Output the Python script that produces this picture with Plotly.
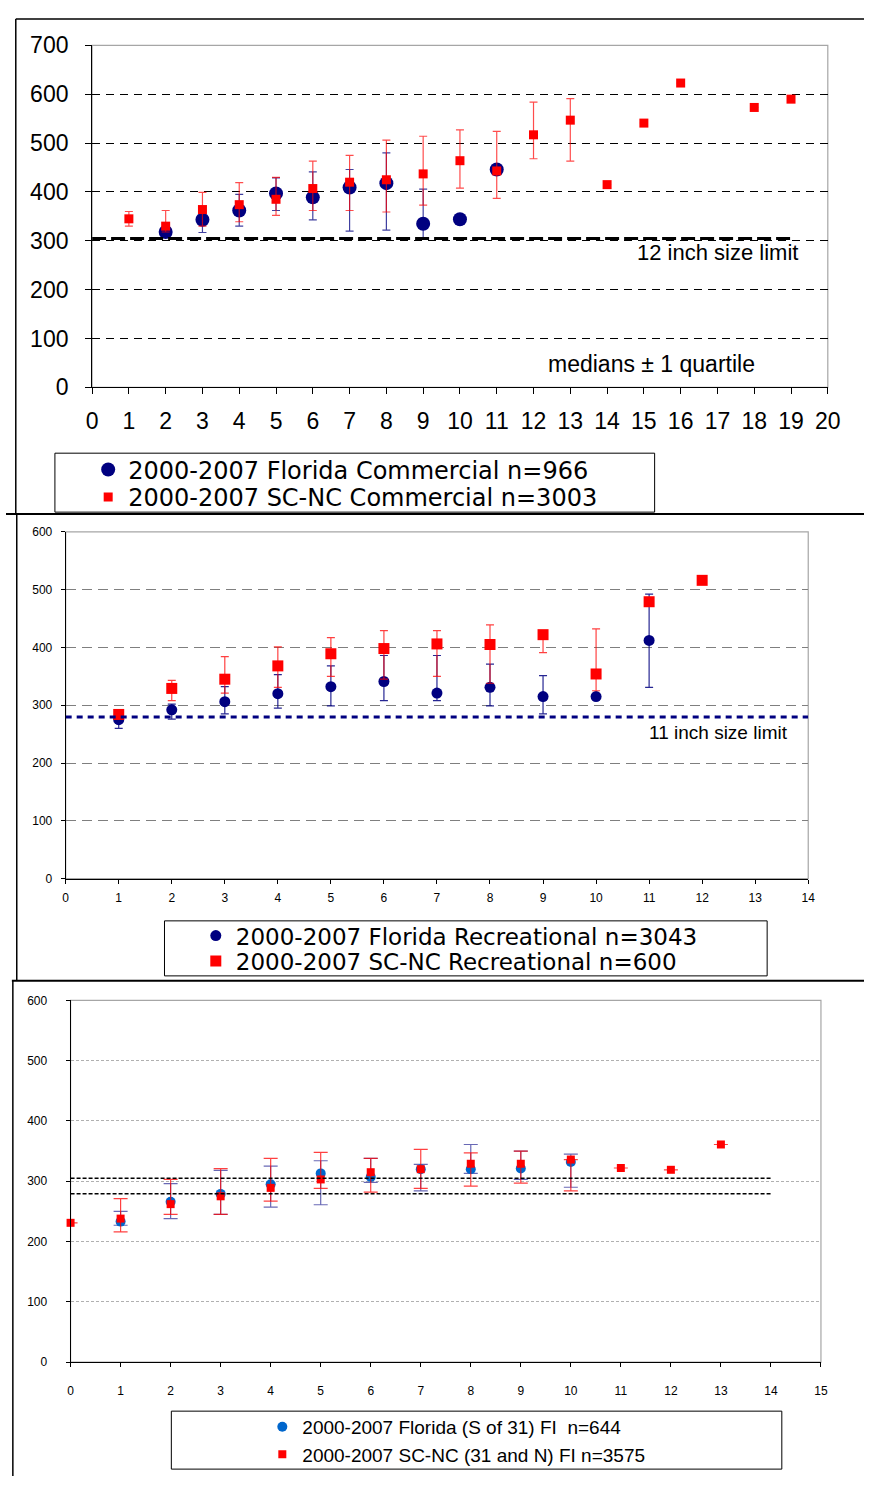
import plotly.graph_objects as go

W, H = 877, 1489

# ---------------- data ----------------
# Panel 1: commercial
fc_x = [2, 3, 4, 5, 6, 7, 8, 9, 10, 11]
fc_med = [318, 343, 362, 397, 389, 409, 418, 335, 344, 446]
fc_q1 = [312, 317, 330, 362, 343, 320, 322, 305, 344, 446]
fc_q3 = [325, 356, 395, 429, 441, 446, 480, 406, 344, 446]

sc_x = [1, 2, 3, 4, 5, 6, 7, 8, 9, 10, 11, 12, 13, 14, 15, 16, 18, 19]
sc_med = [345, 330, 364, 374, 385, 407, 420, 425, 437, 464, 443, 517, 547, 415, 541, 623, 573, 590]
sc_q1 = [330, 318, 330, 339, 352, 362, 362, 359, 373, 408, 387, 468, 463, 415, 541, 623, 573, 590]
sc_q3 = [360, 362, 399, 419, 430, 463, 475, 506, 514, 527, 524, 584, 591, 415, 541, 623, 573, 590]

# Panel 2: recreational
fr_x = [1, 2, 3, 4, 5, 6, 7, 8, 9, 10, 11]
fr_med = [275, 292, 306, 320, 332, 341, 321, 331, 315, 315, 412]
fr_q1 = [260, 276, 285, 295, 299, 308, 308, 299, 285, 315, 331]
fr_q3 = [290, 302, 332, 353, 368, 386, 386, 371, 351, 315, 492]

sr_x = [1, 2, 3, 4, 5, 6, 7, 8, 9, 10, 11, 12]
sr_med = [284, 329, 345, 368, 389, 398, 406, 405, 422, 354, 479, 516]
sr_q1 = [278, 308, 321, 331, 350, 345, 350, 338, 391, 325, 479, 516]
sr_q3 = [290, 343, 384, 401, 417, 429, 429, 439, 422, 432, 479, 516]

# Panel 3: fishery independent
ff_x = [1, 2, 3, 4, 5, 6, 7, 8, 9, 10]
ff_med = [233, 266, 279, 295, 313, 307, 320, 320, 321, 332]
ff_q1 = [227, 238, 245, 257, 261, 298, 284, 313, 303, 290]
ff_q3 = [250, 296, 318, 325, 334, 338, 328, 361, 350, 345]

sf_x = [0, 1, 2, 3, 4, 5, 6, 7, 8, 9, 10, 11, 12, 13]
sf_med = [231, 238, 262, 275, 289, 303, 315, 320, 329, 329, 336, 322, 319, 361]
sf_q1 = [231, 216, 245, 245, 267, 288, 282, 288, 292, 297, 284, 322, 319, 361]
sf_q3 = [231, 271, 303, 321, 338, 348, 338, 353, 347, 350, 336, 322, 319, 361]

limit_12in = 304.8
limit_11in = 279.4

names = [
    "2000-2007 Florida Commercial n=966",
    "2000-2007 SC-NC Commercial n=3003",
    "2000-2007 Florida Recreational n=3043",
    "2000-2007 SC-NC Recreational n=600",
    "2000-2007 Florida (S of 31) FI  n=644",
    "2000-2007 SC-NC (31 and N) FI n=3575",
]


def px(x):
    return x / W


def py(y):
    return 1 - y / H


def plus(med, q3):
    return [b - a for a, b in zip(med, q3)]


def minus(med, q1):
    return [a - b for a, b in zip(med, q1)]


FONT = "Liberation Sans, Arial, sans-serif"
WIDE = "DejaVu Sans, Verdana, sans-serif"

fig = go.Figure()


def add_series(x, med, q1, q3, name, xa, ya, legend, symbol, size, color, ecolor, capw):
    fig.add_trace(go.Scatter(
        x=x, y=med, mode="markers", name=name, xaxis=xa, yaxis=ya, legend=legend,
        cliponaxis=False,
        marker=dict(symbol=symbol, size=size, color=color, line=dict(width=0)),
        error_y=dict(type="data", symmetric=False, array=plus(med, q3),
                     arrayminus=minus(med, q1), color=ecolor, thickness=1.2, width=capw),
    ))


add_series(fc_x, fc_med, fc_q1, fc_q3, names[0], "x", "y", "legend", "circle", 14,
           "#000080", "rgba(0,0,128,0.75)", 4)
add_series(sc_x, sc_med, sc_q1, sc_q3, names[1], "x", "y", "legend2", "square", 9,
           "#ff0000", "rgba(255,0,0,0.7)", 4)
add_series(fr_x, fr_med, fr_q1, fr_q3, names[2], "x2", "y2", "legend3", "circle", 11,
           "#000080", "rgba(0,0,128,0.85)", 4)
add_series(sr_x, sr_med, sr_q1, sr_q3, names[3], "x2", "y2", "legend4", "square", 11,
           "#ff0000", "rgba(255,0,0,0.75)", 4)
add_series(ff_x, ff_med, ff_q1, ff_q3, names[4], "x3", "y3", "legend5", "circle", 10,
           "#0066cc", "rgba(40,40,150,0.7)", 7)
add_series(sf_x, sf_med, sf_q1, sf_q3, names[5], "x3", "y3", "legend6", "square", 8,
           "#ff0000", "rgba(255,0,0,0.75)", 7)

# plot-area pixel rectangles
P1 = (88, 33, 840, 381)
P2 = (61, 528, 820, 881)
P3 = (66, 1005, 833, 1373)


def dom(p):
    return [px(p[0]), px(p[2])], [py(p[3]), py(p[1])]


d1x, d1y = dom(P1)
d2x, d2y = dom(P2)
d3x, d3y = dom(P3)

common_ax = dict(showline=True, linecolor="black", linewidth=1, ticks="outside",
                 tickcolor="black", zeroline=False, fixedrange=True)


def leg(xpx, ypx, size, family):
    return dict(x=px(xpx), y=py(ypx), xanchor="left", yanchor="middle",
                bgcolor="rgba(0,0,0,0)", font=dict(size=size, family=family), borderwidth=0,
                itemsizing="trace")


fig.update_layout(
    width=W, height=H, margin=dict(l=0, r=0, t=0, b=0),
    paper_bgcolor="white", plot_bgcolor="white",
    font=dict(family=FONT, color="black"),
    xaxis=dict(domain=d1x, range=[0, 20], dtick=1, tick0=0, anchor="y", showgrid=False,
               ticklen=6, tickfont=dict(size=23), ticklabelstandoff=7, **common_ax),
    yaxis=dict(domain=d1y, range=[0, 700], dtick=100, anchor="x", showgrid=True,
               gridcolor="black", griddash="8px,6px", gridwidth=1,
               ticklen=6, tickfont=dict(size=23), ticklabelstandoff=12, **common_ax),
    xaxis2=dict(domain=d2x, range=[0, 14], dtick=1, tick0=0, anchor="y2", showgrid=False,
                ticklen=4, tickfont=dict(size=12), ticklabelstandoff=4, **common_ax),
    yaxis2=dict(domain=d2y, range=[0, 600], dtick=100, anchor="x2", showgrid=True,
                gridcolor="#7f7f7f", griddash="10px,6px", gridwidth=1,
                ticklen=4, tickfont=dict(size=12), ticklabelstandoff=6, **common_ax),
    xaxis3=dict(domain=d3x, range=[0, 15], dtick=1, tick0=0, anchor="y3", showgrid=False,
                ticklen=4, tickfont=dict(size=12), ticklabelstandoff=14, **common_ax),
    yaxis3=dict(domain=d3y, range=[0, 600], dtick=100, anchor="x3", showgrid=True,
                gridcolor="#b0b0b0", griddash="3px,2px", gridwidth=1,
                ticklen=4, tickfont=dict(size=12), ticklabelstandoff=16, **common_ax),
    legend=leg(84, 465, 24, WIDE),
    legend2=leg(84, 493, 24, WIDE),
    legend3=leg(194, 939, 23, WIDE),
    legend4=leg(194, 965, 23, WIDE),
    legend5=leg(262, 1439, 19, FONT),
    legend6=leg(262, 1467, 19, FONT),
    showlegend=True,
)

shapes = []


def line_px(x0, y0, x1, y1, color="black", width=1.5):
    shapes.append(dict(type="line", xref="paper", yref="paper", x0=px(x0), y0=py(y0),
                       x1=px(x1), y1=py(y1), line=dict(color=color, width=width)))


def rect_px(x0, y0, x1, y1, color, width=1):
    shapes.append(dict(type="rect", xref="paper", yref="paper", x0=px(x0), y0=py(y0),
                       x1=px(x1), y1=py(y1), line=dict(color=color, width=width),
                       fillcolor="rgba(0,0,0,0)", layer="below"))


# outer panel frames
line_px(10, 6, 877, 6)
line_px(10, 6, 10, 510)
line_px(0, 510, 877, 510, width=2)
line_px(11, 510, 11, 985)
line_px(6, 985, 877, 985, width=2)
line_px(7, 985, 7, 1489)

# plot-area frames (grey top/right)
for p in (P1, P2, P3):
    rect_px(p[0], p[1], p[2], p[3], "#a6a6a6", 1.2)

# legend boxes
rect_px(50, 448, 663, 508, "black", 1)
rect_px(162, 924, 778, 980, "black", 1)
rect_px(169, 1423, 793, 1482, "black", 1)

# size-limit lines
shapes.append(dict(type="line", xref="x", yref="y", x0=0, x1=19, y0=limit_12in, y1=limit_12in,
                   line=dict(color="black", width=3, dash="14px,5px")))
shapes.append(dict(type="line", xref="x2", yref="y2", x0=0, x1=14, y0=limit_11in, y1=limit_11in,
                   line=dict(color="#000080", width=3, dash="6px,5px")))
for v in (limit_12in, limit_11in):
    shapes.append(dict(type="line", xref="x3", yref="y3", x0=0, x1=14, y0=v, y1=v,
                       line=dict(color="black", width=1.5, dash="4px,2px")))

fig.update_layout(shapes=shapes)

fig.add_annotation(text="12 inch size limit", x=px(727), y=py(244), xref="paper", yref="paper",
                   showarrow=False, font=dict(size=22), xanchor="center", yanchor="middle")
fig.add_annotation(text="medians \u00b1 1 quartile", x=px(660), y=py(357), xref="paper", yref="paper",
                   showarrow=False, font=dict(size=23), xanchor="center", yanchor="middle")
fig.add_annotation(text="11 inch size limit", x=px(728), y=py(732), xref="paper", yref="paper",
                   showarrow=False, font=dict(size=19), xanchor="center", yanchor="middle")

post = (
    "document.documentElement.style.margin='0';"
    "document.body.style.margin='0';"
    "document.body.style.overflow='hidden';"
    "var d=document.getElementById('{plot_id}');"
    "d.style.position='absolute';d.style.left='0px';d.style.top='0px';"
)
fig.write_html("out.html", config={"displayModeBar": False}, post_script=post)
